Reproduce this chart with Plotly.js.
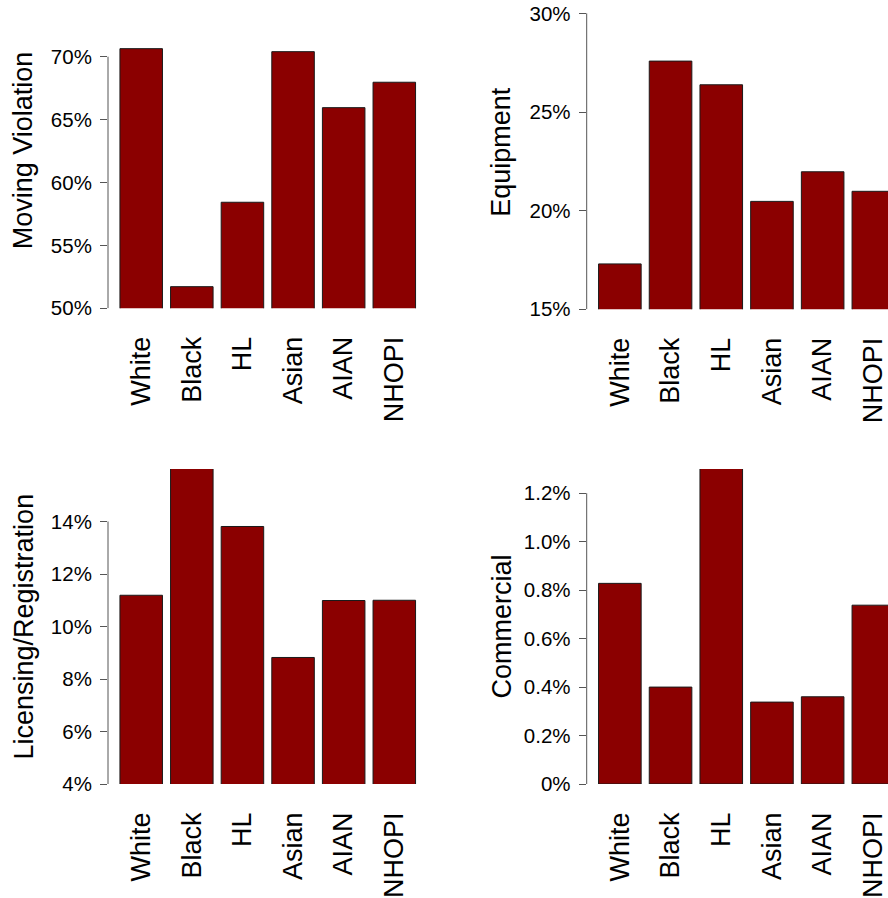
<!DOCTYPE html>
<html>
<head>
<meta charset="utf-8">
<script src="https://cdn.plot.ly/plotly-3.0.1.min.js"></script>
<style>html,body{margin:0;padding:0;background:#fff;}#chart{width:888px;height:898px;}</style>
</head>
<body>
<div id="chart"></div>
<script>
var categories = ["White", "Black", "HL", "Asian", "AIAN", "NHOPI"];

var movingViolation = [70.64, 51.72, 58.43, 70.40, 65.95, 67.97];
var equipment = [17.30, 27.58, 26.38, 20.47, 21.97, 20.98];
var licensing = [11.19, 16.30, 13.81, 8.82, 10.99, 11.00];
var commercial = [0.828, 0.400, 1.350, 0.338, 0.360, 0.738];

var titles = ["Moving Violation", "Equipment", "Licensing/Registration", "Commercial"];

var ticks1 = [50, 55, 60, 65, 70];
var tickText1 = ["50%", "55%", "60%", "65%", "70%"];
var ticks2 = [15, 20, 25, 30];
var tickText2 = ["15%", "20%", "25%", "30%"];
var ticks3 = [4, 6, 8, 10, 12, 14];
var tickText3 = ["4%", "6%", "8%", "10%", "12%", "14%"];
var ticks4 = [0, 0.2, 0.4, 0.6, 0.8, 1.0, 1.2];
var tickText4 = ["0%", "0.2%", "0.4%", "0.6%", "0.8%", "1.0%", "1.2%"];

var W = 888, H = 898;
var FONT = "Liberation Sans, Arial, sans-serif";
var barColor = "#8B0000";
var axisColor = "#555555";

function bar(y, xa, ya) {
  return {
    type: "bar", x: categories, y: y, xaxis: xa, yaxis: ya,
    marker: {color: barColor, line: {color: "#1a1a1a", width: 1}},
    hoverinfo: "x+y", showlegend: false
  };
}

var data = [
  bar(movingViolation, "x", "y"),
  bar(equipment, "x2", "y2"),
  bar(licensing, "x3", "y3"),
  bar(commercial, "x4", "y4")
];

function xax(domain, range, anchor) {
  return {
    domain: domain, range: range, anchor: anchor,
    type: "category", tickangle: -90, ticks: "", showline: false,
    showgrid: false, zeroline: false, fixedrange: true,
    ticklabelstandoff: 22,
    tickfont: {family: FONT, size: 27, color: "#000"}
  };
}
function yax(domain, range, anchor, tv, tt) {
  return {
    domain: domain, range: range, anchor: anchor,
    tickvals: tv, ticktext: tt, ticks: "outside", ticklen: 7,
    tickcolor: axisColor, tickwidth: 1,
    showline: false, showgrid: false, zeroline: false, fixedrange: true,
    ticklabelstandoff: 4,
    tickfont: {family: FONT, size: 20.5, color: "#000"}
  };
}

var xL = [108 / W, 427.5 / W];
var xR = [586.7 / W, 1.0];
var yT1 = [1 - 308.3 / H, 1];
var yT2 = [1 - 309.3 / H, 1];
var yB = [1 - 784 / H, 1 - 469 / H];

var layout = {
  width: W, height: H,
  margin: {l: 0, r: 0, t: 0, b: 0},
  paper_bgcolor: "#fff", plot_bgcolor: "#fff",
  bargap: 0.16,
  font: {family: FONT, color: "#000"},
  xaxis: xax(xL, [-0.656, 5.656], "y"),
  yaxis: yax(yT1, [50, 50 + 308.3 / 12.58], "x", ticks1, tickText1),
  xaxis2: xax(xR, [-0.654, 5.289], "y2"),
  yaxis2: yax(yT2, [15, 15 + 309.3 / 19.73], "x2", ticks2, tickText2),
  xaxis3: xax(xL, [-0.656, 5.656], "y3"),
  yaxis3: yax(yB, [4, 16], "x3", ticks3, tickText3),
  xaxis4: xax(xR, [-0.654, 5.289], "y4"),
  yaxis4: yax(yB, [0, 1.3], "x4", ticks4, tickText4),
  shapes: [
    {type: "line", xref: "x domain", yref: "y", x0: 0, x1: 0, y0: ticks1[0], y1: ticks1[ticks1.length - 1], line: {color: axisColor, width: 1}},
    {type: "line", xref: "x2 domain", yref: "y2", x0: 0, x1: 0, y0: ticks2[0], y1: ticks2[ticks2.length - 1], line: {color: axisColor, width: 1}},
    {type: "line", xref: "x3 domain", yref: "y3", x0: 0, x1: 0, y0: ticks3[0], y1: ticks3[ticks3.length - 1], line: {color: axisColor, width: 1}},
    {type: "line", xref: "x4 domain", yref: "y4", x0: 0, x1: 0, y0: ticks4[0], y1: ticks4[ticks4.length - 1], line: {color: axisColor, width: 1}}
  ],
  annotations: [
    {text: titles[0], xref: "paper", yref: "paper", x: 22.5 / W, y: 1 - 150.8 / H, textangle: -90, showarrow: false, xanchor: "center", yanchor: "middle", font: {family: FONT, size: 27, color: "#000"}},
    {text: titles[1], xref: "paper", yref: "paper", x: 501 / W, y: 1 - 151.8 / H, textangle: -90, showarrow: false, xanchor: "center", yanchor: "middle", font: {family: FONT, size: 27, color: "#000"}},
    {text: titles[2], xref: "paper", yref: "paper", x: 23 / W, y: 1 - 626.5 / H, textangle: -90, showarrow: false, xanchor: "center", yanchor: "middle", font: {family: FONT, size: 27, color: "#000"}},
    {text: titles[3], xref: "paper", yref: "paper", x: 501 / W, y: 1 - 626.5 / H, textangle: -90, showarrow: false, xanchor: "center", yanchor: "middle", font: {family: FONT, size: 27, color: "#000"}}
  ]
};

Plotly.newPlot("chart", data, layout, {displayModeBar: false, staticPlot: true});
</script>
</body>
</html>
